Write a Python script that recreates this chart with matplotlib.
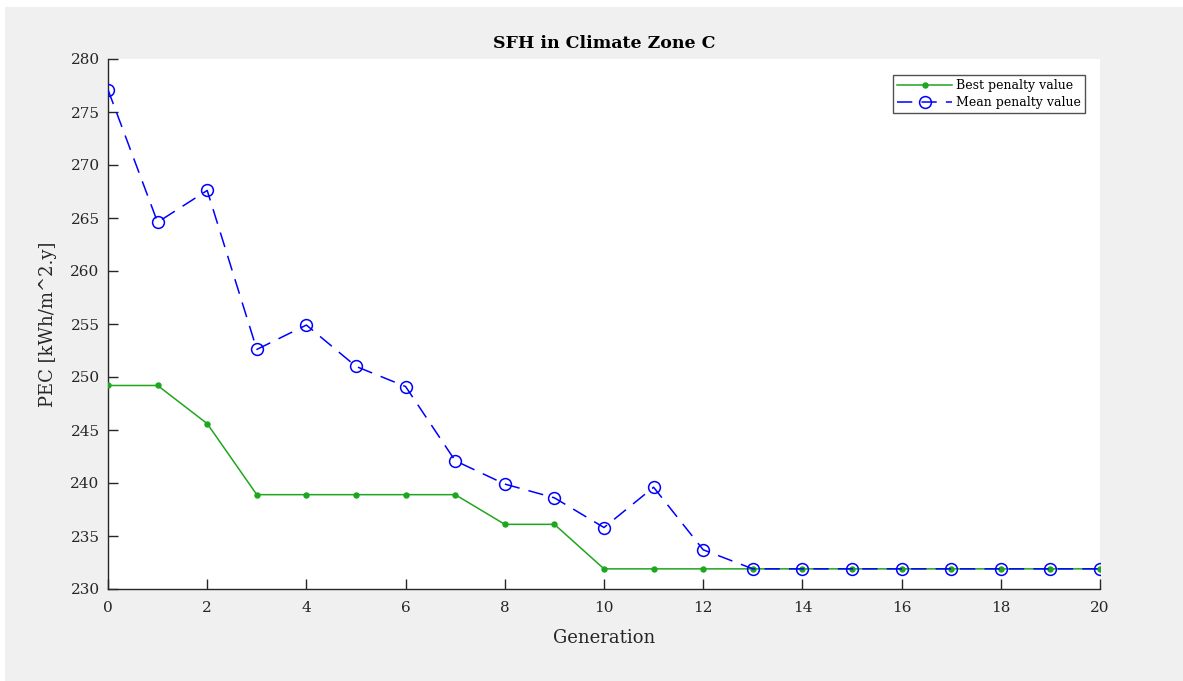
import matplotlib.pyplot as plt
from matplotlib.patches import Rectangle

plt.rcParams['font.family'] = ['DejaVu Serif']

generations = list(range(21))
best_penalty = [249.2, 249.2, 245.6, 238.9, 238.9, 238.9, 238.9, 238.9, 236.1, 236.1,
                231.9, 231.9, 231.9, 231.9, 231.9, 231.9, 231.9, 231.9, 231.9, 231.9, 231.9]
mean_penalty = [277.1, 264.6, 267.6, 252.6, 254.9, 251.0, 249.1, 242.1, 239.9, 238.6,
                235.8, 239.6, 233.7, 231.9, 231.9, 231.9, 231.9, 231.9, 231.9, 231.9, 231.9]
x_ticks = list(range(0, 21, 2))
y_ticks = list(range(230, 281, 5))

text_color = '#262626'
green = '#1fa61f'
blue = '#0000ff'

fig = plt.figure(figsize=(11.83, 6.81), dpi=100)
fig.patch.set_facecolor('white')
# grey figure panel
fig.patches.append(Rectangle((5 / 1183, 0), 1 - 5 / 1183, 1 - 7 / 681,
                             transform=fig.transFigure, facecolor='#f0f0f0',
                             edgecolor='none', zorder=-10))

ax = fig.add_axes([108 / 1183, 1 - 589 / 681, 992 / 1183, 530 / 681])
ax.set_facecolor('white')

ax.plot(generations, best_penalty, color=green, linewidth=1.1, marker='o',
        markersize=3.6, markerfacecolor=green, markeredgecolor=green,
        label='Best penalty value', zorder=3)
ax.plot(generations, mean_penalty, color=blue, linewidth=1.1, dashes=(10, 6),
        marker='o', markersize=8.5, markerfacecolor='none', markeredgecolor=blue,
        markeredgewidth=1.1, label='Mean penalty value', zorder=4)

ax.set_xlim(0, 20)
ax.set_ylim(230, 280)
ax.set_xticks(x_ticks)
ax.set_yticks(y_ticks)

for side in ['top', 'right']:
    ax.spines[side].set_visible(False)
for side in ['left', 'bottom']:
    ax.spines[side].set_color(text_color)
    ax.spines[side].set_linewidth(1.0)

ax.tick_params(direction='in', length=7, width=1.0, colors=text_color,
               labelsize=11)
ax.tick_params(axis='x', pad=9)
ax.tick_params(axis='y', pad=6)

ax.set_title('SFH in Climate Zone C', fontsize=12.5, fontweight='bold',
             color='black', pad=8)
ax.set_xlabel('Generation', fontsize=13, color=text_color, labelpad=10)
ax.set_ylabel('PEC [kWh/m^2.y]', fontsize=13, color=text_color, labelpad=10)

leg = ax.legend(loc='upper right', bbox_to_anchor=(0.985, 0.97), fontsize=9,
                frameon=True, fancybox=False, handlelength=4.4,
                borderpad=0.35, labelspacing=0.3, handletextpad=0.3,
                borderaxespad=0)
leg.get_frame().set_edgecolor(text_color)
leg.get_frame().set_linewidth(1.0)
for t in leg.get_texts():
    t.set_color('black')

fig.savefig('out.png', dpi=100)
